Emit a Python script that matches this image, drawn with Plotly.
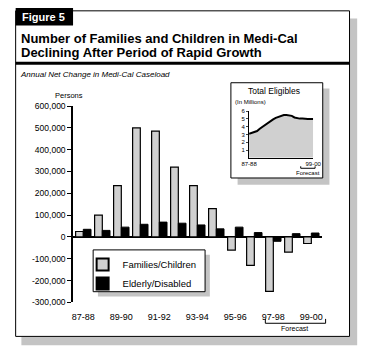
import plotly.graph_objects as go

W, H = 369, 355

# ---- data ----
categories = ["87-88", "88-89", "89-90", "90-91", "91-92", "92-93", "93-94",
              "94-95", "95-96", "96-97", "97-98", "98-99", "99-00"]
families_children = [25000, 100000, 235000, 500000, 485000, 320000, 235000,
                     130000, -60000, -130000, -250000, -70000, -30000]
elderly_disabled = [35000, 30000, 45000, 58000, 68000, 63000, 55000,
                    37000, 45000, 20000, -20000, 15000, 18000]
y_tick_vals = [600000, 500000, 400000, 300000, 200000, 100000, 0,
               -100000, -200000, -300000]
y_tick_text = ["600,000", "500,000", "400,000", "300,000", "200,000", "100,000", "0",
               "-100,000", "-200,000", "-300,000"]
x_tick_labels = ["87-88", "89-90", "91-92", "93-94", "95-96", "97-98", "99-00"]

# inset: total eligibles (millions), half-year steps from 87-88 to 99-00
inset_x = [0, 0.5, 1, 1.5, 2, 2.5, 3, 3.5, 4, 4.5, 5, 5.5, 6, 6.5, 7, 7.5, 8,
           8.5, 9, 9.5, 10, 10.5, 11, 11.5, 12]
inset_y = [3.1, 3.2, 3.4, 3.45, 3.75, 4.0, 4.3, 4.55, 4.8, 4.95, 5.15, 5.3, 5.45,
           5.5, 5.5, 5.45, 5.4, 5.2, 5.1, 5.05, 5.05, 5.0, 5.0, 5.0, 5.0]
inset_tick_vals = [1, 2, 3, 4, 5, 6]


def px(x):
    return x / W


def py(y):
    return 1 - y / H


FONT = "Arial"
GRAY = "#d0d0d0"
SHADOW = "#c4c4c4"

fig = go.Figure()
fig.add_trace(go.Bar(x=list(range(len(categories))), y=families_children,
                     name="Families/Children",
                     marker=dict(color=GRAY, line=dict(color="black", width=1.2))))
fig.add_trace(go.Bar(x=list(range(len(categories))), y=elderly_disabled,
                     name="Elderly/Disabled",
                     marker=dict(color="black", line=dict(color="black", width=1))))
fig.add_trace(go.Scatter(x=inset_x, y=inset_y, mode="lines", fill="tozeroy",
                         fillcolor=GRAY, line=dict(color="black", width=2),
                         xaxis="x2", yaxis="y2", showlegend=False))

shapes = [
    # frame shadow + frame
    dict(type="rect", xref="paper", yref="paper", x0=px(14), x1=px(365), y0=py(350), y1=py(14),
         fillcolor=SHADOW, line=dict(width=0), layer="below"),
    dict(type="rect", xref="paper", yref="paper", x0=px(8), x1=px(357), y0=py(341), y1=py(6),
         fillcolor="white", line=dict(color="black", width=1), layer="below"),
    # figure tab
    dict(type="rect", xref="paper", yref="paper", x0=px(8), x1=px(68), y0=py(21), y1=py(3),
         fillcolor="black", line=dict(width=0), layer="below"),
    # thick rule under title
    dict(type="line", xref="paper", yref="paper", x0=px(8), x1=px(357), y0=py(60), y1=py(60),
         line=dict(color="black", width=3)),
    # legend shadow + box
    dict(type="rect", xref="paper", yref="paper", x0=px(94), x1=px(211), y0=py(300), y1=py(257),
         fillcolor=SHADOW, line=dict(width=0), layer="below"),
    dict(type="rect", xref="paper", yref="paper", x0=px(89), x1=px(206), y0=py(295), y1=py(252),
         fillcolor="white", line=dict(color="black", width=1), layer="below"),
    # inset shadow + box
    dict(type="rect", xref="paper", yref="paper", x0=px(240), x1=px(336), y0=py(185), y1=py(86),
         fillcolor=SHADOW, line=dict(width=0), layer="below"),
    dict(type="rect", xref="paper", yref="paper", x0=px(233), x1=px(329), y0=py(178), y1=py(80),
         fillcolor="white", line=dict(color="black", width=1), layer="below"),
    # main forecast bracket
    dict(type="path", xref="paper", yref="paper",
         path=f"M{px(269)},{py(323)} L{px(269)},{py(327.5)} L{px(332)},{py(327.5)} L{px(332)},{py(323)}",
         line=dict(color="black", width=1)),
    # inset forecast bracket
    dict(type="path", xref="paper", yref="paper",
         path=f"M{px(306)},{py(166)} L{px(306)},{py(168)} L{px(321)},{py(168)} L{px(321)},{py(166)}",
         line=dict(color="black", width=1)),
]


def note(text, x, y, size, xanchor="center", color="black", weight="normal"):
    return dict(text=text, x=px(x), y=py(y), xref="paper", yref="paper",
                xanchor=xanchor, yanchor="middle", showarrow=False,
                font=dict(family=FONT, size=size, color=color, weight=weight))


annotations = [
    note("Figure 5", 13, 12.5, 11, "left", "white", "bold"),
    note("Number of Families and Children in Medi-Cal", 11, 34, 13, "left", weight="bold"),
    note("Declining After Period of Rapid Growth", 11, 49, 13, "left", weight="bold"),
    note("<i>Annual Net Change in Medi-Cal Caseload</i>", 10, 72, 8, "left"),
    note("Persons", 64, 93, 7.5),
    note("Forecast", 300, 333, 7),
    note("Total Eligibles", 278, 88, 8.5),
    note("(In Millions)", 235, 99.5, 6, "left"),
    note("Forecast", 314, 172.5, 6),
]

fig.update_layout(
    width=W, height=H,
    margin=dict(l=0, r=0, t=0, b=0),
    paper_bgcolor="white", plot_bgcolor="rgba(0,0,0,0)",
    barmode="group", bargap=0.19, bargroupgap=0,
    font=dict(family=FONT, color="black"),
    shapes=shapes, annotations=annotations,
    legend=dict(x=px(78), y=py(252), xanchor="left", yanchor="top",
                bgcolor="rgba(0,0,0,0)", borderwidth=0,
                font=dict(family=FONT, size=9.5, color="black"),
                tracegroupgap=0, itemsizing="constant"),
    xaxis=dict(domain=[px(68), px(328)], range=[-0.54, 12.55],
               tickvals=[0, 2, 4, 6, 8, 10, 12], ticktext=x_tick_labels,
               ticks="outside", ticklen=6, tickcolor="rgba(0,0,0,0)",
               tickfont=dict(family=FONT, size=9), showgrid=False,
               showline=False, zeroline=False, fixedrange=True),
    yaxis=dict(domain=[py(306), py(104)], range=[-300000, 600000],
               tickvals=y_tick_vals, ticktext=y_tick_text,
               ticks="outside", ticklen=4, tickcolor="black", tickwidth=1,
               tickfont=dict(family=FONT, size=8.5), showgrid=False,
               showline=True, linecolor="black", linewidth=1.5,
               zeroline=True, zerolinecolor="black", zerolinewidth=1.5),
    xaxis2=dict(domain=[px(252), px(319)], range=[0, 12], anchor="y2",
                tickvals=[0, 12], ticktext=["87-88", "99-00"],
                ticks="", tickfont=dict(family=FONT, size=6),
                showline=True, linecolor="black", linewidth=1,
                showgrid=False, zeroline=False),
    yaxis2=dict(domain=[py(157.3), py(109.3)], range=[0, 6], anchor="x2",
                tickvals=inset_tick_vals, ticks="outside", ticklen=2,
                tickfont=dict(family=FONT, size=6), showline=True,
                linecolor="black", linewidth=1, showgrid=False, zeroline=False),
)

fig.write_html("out.html", config={"displayModeBar": False},
               post_script="document.body.style.margin='0';document.body.style.padding='0';")
